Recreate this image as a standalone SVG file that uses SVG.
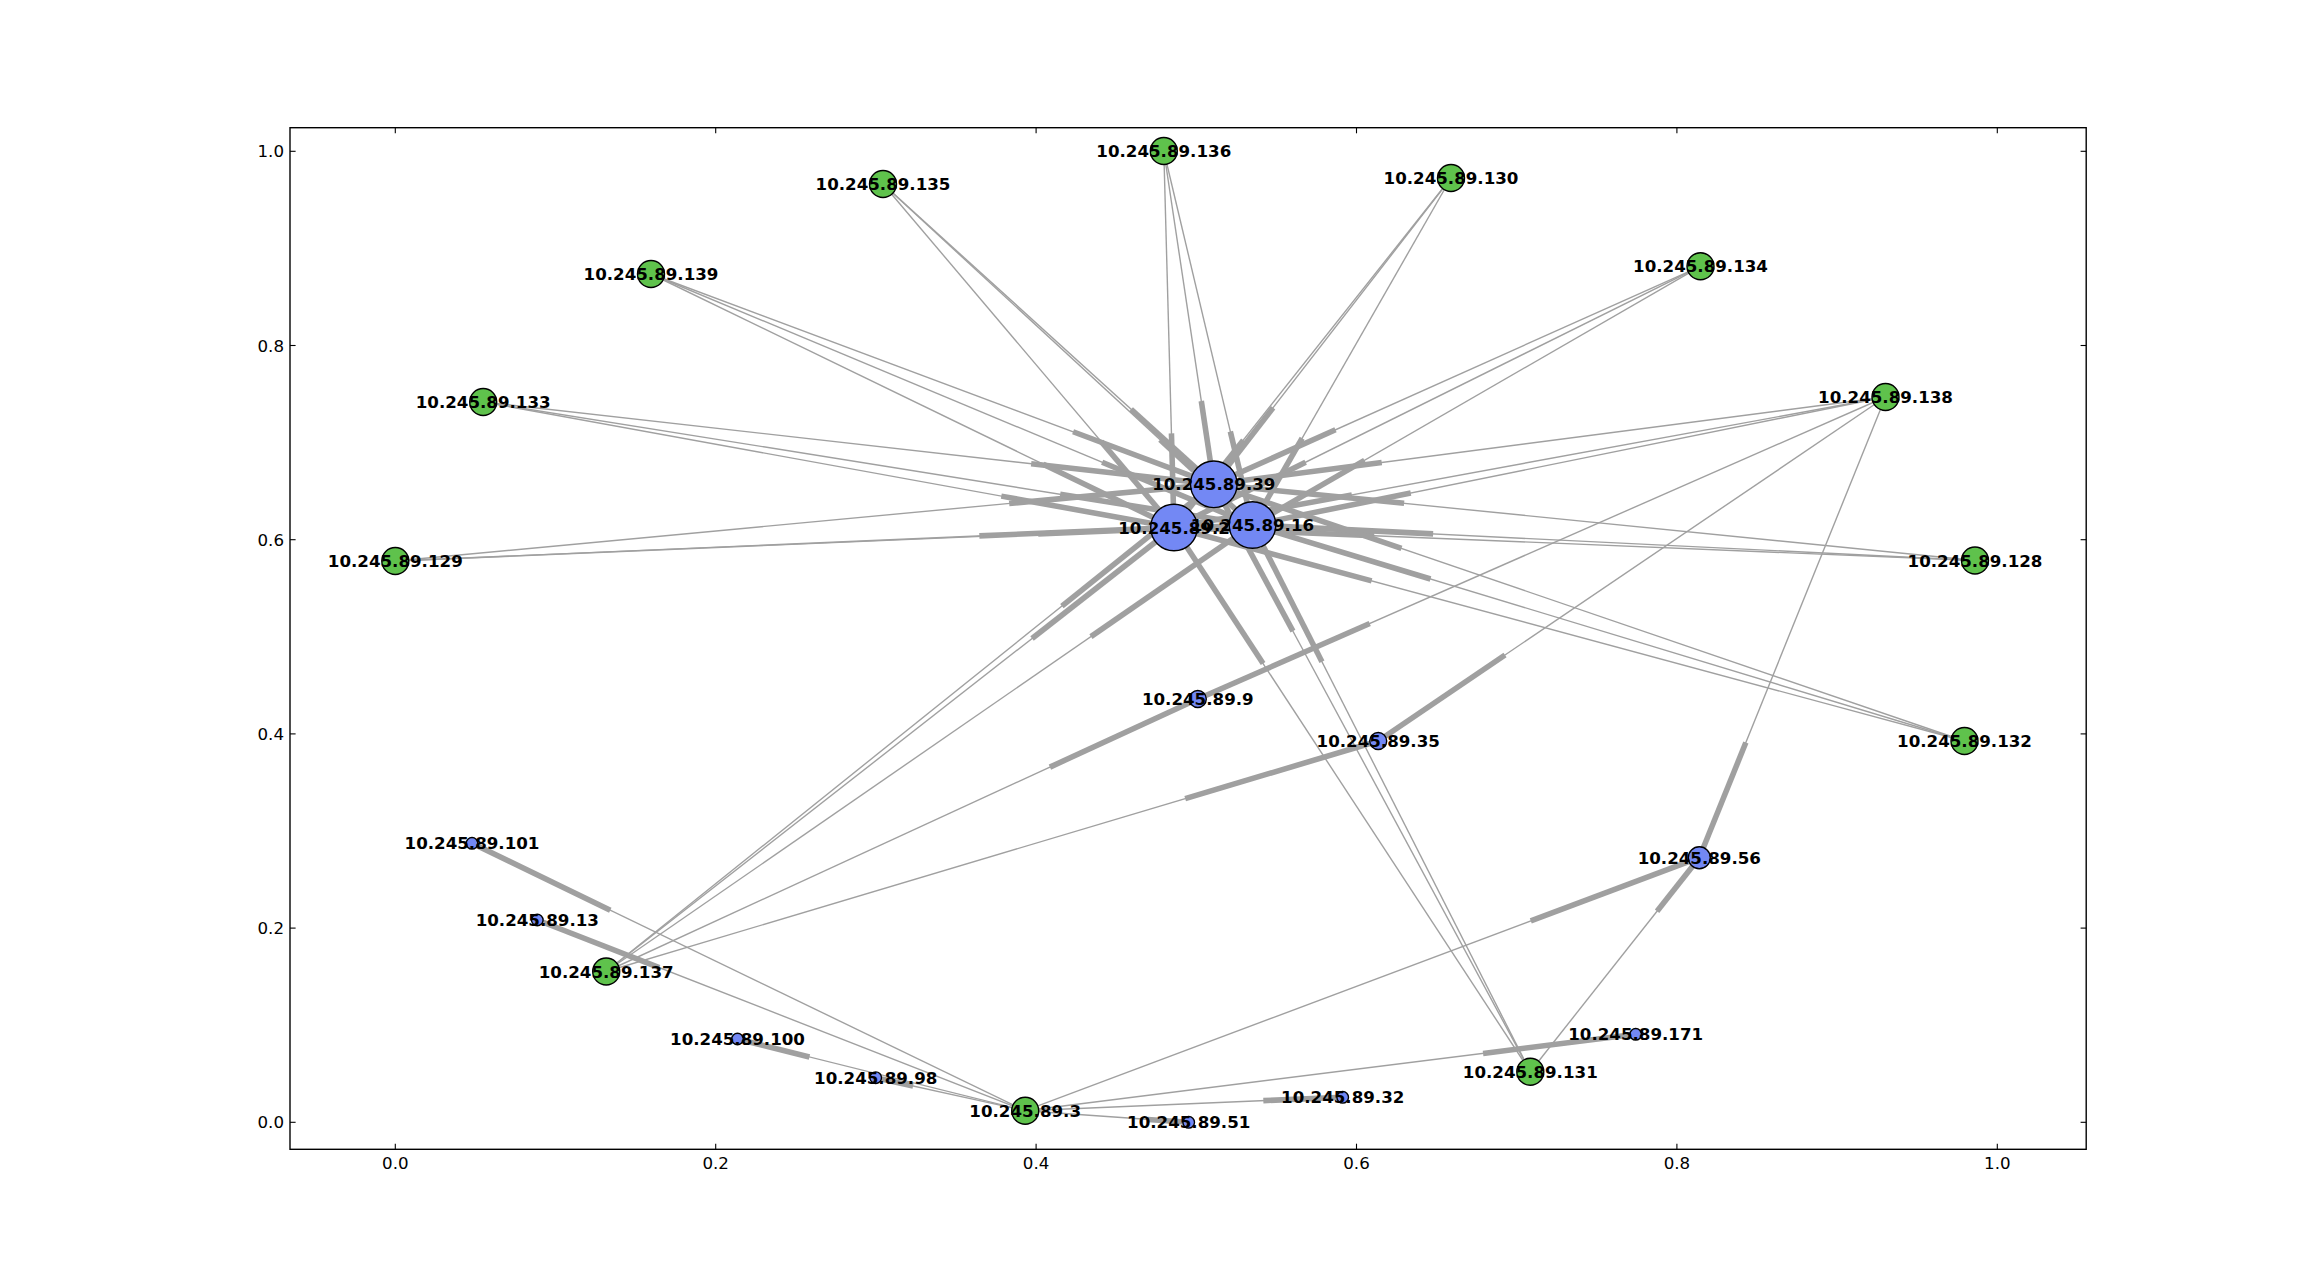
<svg xmlns="http://www.w3.org/2000/svg" width="2318" height="1277" viewBox="0 0 2318 1277">
<style>
.bg{fill:#ffffff}
.frame{fill:none;stroke:#000;stroke-width:1.39}
.tick{stroke:#000;stroke-width:1.1}
.tl{font-family:"DejaVu Sans",sans-serif;font-size:16.67px;fill:#000}
.e line{stroke:#a0a0a0;stroke-linecap:butt}
.e line.t{stroke-width:1.39}
.e line.h{stroke-width:5.56}
.n circle{stroke:#000;stroke-width:1.39}
.g{fill:#5fc24c}
.b{fill:#7388f4}
.n text{font-family:"DejaVu Sans",sans-serif;font-weight:bold;font-size:16.67px;text-anchor:middle;fill:#000}
</style>
<rect class="bg" x="0" y="0" width="2318" height="1277"/>
<g id="axes">
<rect class="frame" x="290" y="127.7" width="1796.2" height="1021.6"/>
<g id="xticks">
<line class="tick" x1="395.3" y1="1149.3" x2="395.3" y2="1143.7"/><line class="tick" x1="395.3" y1="127.7" x2="395.3" y2="133.3"/>
<line class="tick" x1="715.7" y1="1149.3" x2="715.7" y2="1143.7"/><line class="tick" x1="715.7" y1="127.7" x2="715.7" y2="133.3"/>
<line class="tick" x1="1036.1" y1="1149.3" x2="1036.1" y2="1143.7"/><line class="tick" x1="1036.1" y1="127.7" x2="1036.1" y2="133.3"/>
<line class="tick" x1="1356.5" y1="1149.3" x2="1356.5" y2="1143.7"/><line class="tick" x1="1356.5" y1="127.7" x2="1356.5" y2="133.3"/>
<line class="tick" x1="1676.9" y1="1149.3" x2="1676.9" y2="1143.7"/><line class="tick" x1="1676.9" y1="127.7" x2="1676.9" y2="133.3"/>
<line class="tick" x1="1997.3" y1="1149.3" x2="1997.3" y2="1143.7"/><line class="tick" x1="1997.3" y1="127.7" x2="1997.3" y2="133.3"/>
<text class="tl" x="395.3" y="1169.3" text-anchor="middle">0.0</text>
<text class="tl" x="715.7" y="1169.3" text-anchor="middle">0.2</text>
<text class="tl" x="1036.1" y="1169.3" text-anchor="middle">0.4</text>
<text class="tl" x="1356.5" y="1169.3" text-anchor="middle">0.6</text>
<text class="tl" x="1676.9" y="1169.3" text-anchor="middle">0.8</text>
<text class="tl" x="1997.3" y="1169.3" text-anchor="middle">1.0</text>
</g>
<g id="yticks">
<line class="tick" x1="290" y1="1122.3" x2="295.6" y2="1122.3"/><line class="tick" x1="2086.2" y1="1122.3" x2="2080.6" y2="1122.3"/>
<line class="tick" x1="290" y1="928.1" x2="295.6" y2="928.1"/><line class="tick" x1="2086.2" y1="928.1" x2="2080.6" y2="928.1"/>
<line class="tick" x1="290" y1="733.9" x2="295.6" y2="733.9"/><line class="tick" x1="2086.2" y1="733.9" x2="2080.6" y2="733.9"/>
<line class="tick" x1="290" y1="539.7" x2="295.6" y2="539.7"/><line class="tick" x1="2086.2" y1="539.7" x2="2080.6" y2="539.7"/>
<line class="tick" x1="290" y1="345.5" x2="295.6" y2="345.5"/><line class="tick" x1="2086.2" y1="345.5" x2="2080.6" y2="345.5"/>
<line class="tick" x1="290" y1="151.3" x2="295.6" y2="151.3"/><line class="tick" x1="2086.2" y1="151.3" x2="2080.6" y2="151.3"/>
<text class="tl" x="284" y="1128.4" text-anchor="end">0.0</text>
<text class="tl" x="284" y="934.2" text-anchor="end">0.2</text>
<text class="tl" x="284" y="740" text-anchor="end">0.4</text>
<text class="tl" x="284" y="545.8" text-anchor="end">0.6</text>
<text class="tl" x="284" y="351.6" text-anchor="end">0.8</text>
<text class="tl" x="284" y="157.4" text-anchor="end">1.0</text>
</g>
</g>
<g id="connectors" class="e">
<g id="e136-39"><line class="t" x1="1163.8" y1="151" x2="1213.8" y2="484.3"/><line class="h" x1="1201.3" y1="400.98" x2="1213.8" y2="484.3"/></g>
<g id="e136-2"><line class="t" x1="1163.8" y1="151" x2="1174" y2="527.5"/><line class="h" x1="1171.45" y1="433.38" x2="1174" y2="527.5"/></g>
<g id="e136-16"><line class="t" x1="1163.8" y1="151" x2="1252.5" y2="525"/><line class="h" x1="1230.33" y1="431.5" x2="1252.5" y2="525"/></g>
<g id="e135-39"><line class="t" x1="883" y1="184" x2="1213.8" y2="484.3"/><line class="h" x1="1131.1" y1="409.23" x2="1213.8" y2="484.3"/></g>
<g id="e135-2"><line class="t" x1="883" y1="184" x2="1174" y2="527.5"/><line class="h" x1="1101.25" y1="441.63" x2="1174" y2="527.5"/></g>
<g id="e135-16"><line class="t" x1="883" y1="184" x2="1252.5" y2="525"/><line class="h" x1="1160.13" y1="439.75" x2="1252.5" y2="525"/></g>
<g id="e130-39"><line class="t" x1="1451" y1="178" x2="1213.8" y2="484.3"/><line class="h" x1="1273.1" y1="407.73" x2="1213.8" y2="484.3"/></g>
<g id="e130-2"><line class="t" x1="1451" y1="178" x2="1174" y2="527.5"/><line class="h" x1="1243.25" y1="440.13" x2="1174" y2="527.5"/></g>
<g id="e130-16"><line class="t" x1="1451" y1="178" x2="1252.5" y2="525"/><line class="h" x1="1302.13" y1="438.25" x2="1252.5" y2="525"/></g>
<g id="e139-39"><line class="t" x1="651" y1="274" x2="1213.8" y2="484.3"/><line class="h" x1="1073.1" y1="431.73" x2="1213.8" y2="484.3"/></g>
<g id="e139-2"><line class="t" x1="651" y1="274" x2="1174" y2="527.5"/><line class="h" x1="1043.25" y1="464.13" x2="1174" y2="527.5"/></g>
<g id="e139-16"><line class="t" x1="651" y1="274" x2="1252.5" y2="525"/><line class="h" x1="1102.13" y1="462.25" x2="1252.5" y2="525"/></g>
<g id="e134-39"><line class="t" x1="1700.5" y1="266.3" x2="1213.8" y2="484.3"/><line class="h" x1="1335.48" y1="429.8" x2="1213.8" y2="484.3"/></g>
<g id="e134-2"><line class="t" x1="1700.5" y1="266.3" x2="1174" y2="527.5"/><line class="h" x1="1305.63" y1="462.2" x2="1174" y2="527.5"/></g>
<g id="e134-16"><line class="t" x1="1700.5" y1="266.3" x2="1252.5" y2="525"/><line class="h" x1="1364.5" y1="460.33" x2="1252.5" y2="525"/></g>
<g id="e133-39"><line class="t" x1="483.2" y1="402" x2="1213.8" y2="484.3"/><line class="h" x1="1031.15" y1="463.73" x2="1213.8" y2="484.3"/></g>
<g id="e133-2"><line class="t" x1="483.2" y1="402" x2="1174" y2="527.5"/><line class="h" x1="1001.3" y1="496.13" x2="1174" y2="527.5"/></g>
<g id="e133-16"><line class="t" x1="483.2" y1="402" x2="1252.5" y2="525"/><line class="h" x1="1060.18" y1="494.25" x2="1252.5" y2="525"/></g>
<g id="e138-39"><line class="t" x1="1885.5" y1="397" x2="1213.8" y2="484.3"/><line class="h" x1="1381.73" y1="462.48" x2="1213.8" y2="484.3"/></g>
<g id="e138-2"><line class="t" x1="1885.5" y1="397" x2="1174" y2="527.5"/><line class="h" x1="1351.88" y1="494.88" x2="1174" y2="527.5"/></g>
<g id="e138-16"><line class="t" x1="1885.5" y1="397" x2="1252.5" y2="525"/><line class="h" x1="1410.75" y1="493" x2="1252.5" y2="525"/></g>
<g id="e129-39"><line class="t" x1="395.3" y1="561" x2="1213.8" y2="484.3"/><line class="h" x1="1009.18" y1="503.48" x2="1213.8" y2="484.3"/></g>
<g id="e129-2"><line class="t" x1="395.3" y1="561" x2="1174" y2="527.5"/><line class="h" x1="979.33" y1="535.88" x2="1174" y2="527.5"/></g>
<g id="e129-16"><line class="t" x1="395.3" y1="561" x2="1252.5" y2="525"/><line class="h" x1="1038.2" y1="534" x2="1252.5" y2="525"/></g>
<g id="e128-39"><line class="t" x1="1975" y1="560.5" x2="1213.8" y2="484.3"/><line class="h" x1="1404.1" y1="503.35" x2="1213.8" y2="484.3"/></g>
<g id="e128-2"><line class="t" x1="1975" y1="560.5" x2="1174" y2="527.5"/><line class="h" x1="1374.25" y1="535.75" x2="1174" y2="527.5"/></g>
<g id="e128-16"><line class="t" x1="1975" y1="560.5" x2="1252.5" y2="525"/><line class="h" x1="1433.13" y1="533.88" x2="1252.5" y2="525"/></g>
<g id="e132-39"><line class="t" x1="1964.5" y1="741" x2="1213.8" y2="484.3"/><line class="h" x1="1401.48" y1="548.48" x2="1213.8" y2="484.3"/></g>
<g id="e132-2"><line class="t" x1="1964.5" y1="741" x2="1174" y2="527.5"/><line class="h" x1="1371.63" y1="580.88" x2="1174" y2="527.5"/></g>
<g id="e132-16"><line class="t" x1="1964.5" y1="741" x2="1252.5" y2="525"/><line class="h" x1="1430.5" y1="579" x2="1252.5" y2="525"/></g>
<g id="e137-39"><line class="t" x1="606.2" y1="971.5" x2="1213.8" y2="484.3"/><line class="h" x1="1061.9" y1="606.1" x2="1213.8" y2="484.3"/></g>
<g id="e137-2"><line class="t" x1="606.2" y1="971.5" x2="1174" y2="527.5"/><line class="h" x1="1032.05" y1="638.5" x2="1174" y2="527.5"/></g>
<g id="e137-16"><line class="t" x1="606.2" y1="971.5" x2="1252.5" y2="525"/><line class="h" x1="1090.93" y1="636.63" x2="1252.5" y2="525"/></g>
<g id="e137-9"><line class="t" x1="606.2" y1="971.5" x2="1197.8" y2="699"/><line class="h" x1="1049.9" y1="767.1" x2="1197.8" y2="699"/></g>
<g id="e137-35"><line class="t" x1="606.2" y1="971.5" x2="1378.2" y2="741"/><line class="h" x1="1185.2" y1="798.6" x2="1378.2" y2="741"/></g>
<g id="e131-39"><line class="t" x1="1530.3" y1="1071.7" x2="1213.8" y2="484.3"/><line class="h" x1="1292.93" y1="631.15" x2="1213.8" y2="484.3"/></g>
<g id="e131-2"><line class="t" x1="1530.3" y1="1071.7" x2="1174" y2="527.5"/><line class="h" x1="1263.08" y1="663.55" x2="1174" y2="527.5"/></g>
<g id="e131-16"><line class="t" x1="1530.3" y1="1071.7" x2="1252.5" y2="525"/><line class="h" x1="1321.95" y1="661.68" x2="1252.5" y2="525"/></g>
<g id="e131-56"><line class="t" x1="1530.3" y1="1071.7" x2="1699.3" y2="857.7"/><line class="h" x1="1657.05" y1="911.2" x2="1699.3" y2="857.7"/></g>
<g id="e138-9"><line class="t" x1="1885.5" y1="397" x2="1197.8" y2="699"/><line class="h" x1="1369.73" y1="623.5" x2="1197.8" y2="699"/></g>
<g id="e138-35"><line class="t" x1="1885.5" y1="397" x2="1378.2" y2="741"/><line class="h" x1="1505.03" y1="655" x2="1378.2" y2="741"/></g>
<g id="e138-56"><line class="t" x1="1885.5" y1="397" x2="1699.3" y2="857.7"/><line class="h" x1="1745.85" y1="742.53" x2="1699.3" y2="857.7"/></g>
<g id="e3-101"><line class="t" x1="1025.2" y1="1110.7" x2="472" y2="843.3"/><line class="h" x1="610.3" y1="910.15" x2="472" y2="843.3"/></g>
<g id="e3-13"><line class="t" x1="1025.2" y1="1110.7" x2="537.3" y2="920"/><line class="h" x1="659.28" y1="967.68" x2="537.3" y2="920"/></g>
<g id="e3-100"><line class="t" x1="1025.2" y1="1110.7" x2="737.5" y2="1039"/><line class="h" x1="809.43" y1="1056.93" x2="737.5" y2="1039"/></g>
<g id="e3-98"><line class="t" x1="1025.2" y1="1110.7" x2="875.7" y2="1077.7"/><line class="h" x1="913.08" y1="1085.95" x2="875.7" y2="1077.7"/></g>
<g id="e3-51"><line class="t" x1="1025.2" y1="1110.7" x2="1188.7" y2="1122.3"/><line class="h" x1="1147.83" y1="1119.4" x2="1188.7" y2="1122.3"/></g>
<g id="e3-32"><line class="t" x1="1025.2" y1="1110.7" x2="1342.7" y2="1097.3"/><line class="h" x1="1263.33" y1="1100.65" x2="1342.7" y2="1097.3"/></g>
<g id="e3-171"><line class="t" x1="1025.2" y1="1110.7" x2="1635.7" y2="1034.3"/><line class="h" x1="1483.08" y1="1053.4" x2="1635.7" y2="1034.3"/></g>
<g id="e3-56"><line class="t" x1="1025.2" y1="1110.7" x2="1699.3" y2="857.7"/><line class="h" x1="1530.78" y1="920.95" x2="1699.3" y2="857.7"/></g>
</g>
<g id="nodes">
<g id="n136" class="n"><circle class="g" cx="1163.8" cy="151" r="13.5"/><text x="1163.8" y="157.1">10.245.89.136</text></g>
<g id="n135" class="n"><circle class="g" cx="883" cy="184" r="13.5"/><text x="883" y="190.1">10.245.89.135</text></g>
<g id="n130" class="n"><circle class="g" cx="1451" cy="178" r="13.5"/><text x="1451" y="184.1">10.245.89.130</text></g>
<g id="n139" class="n"><circle class="g" cx="651" cy="274" r="13.5"/><text x="651" y="280.1">10.245.89.139</text></g>
<g id="n134" class="n"><circle class="g" cx="1700.5" cy="266.3" r="13.5"/><text x="1700.5" y="272.4">10.245.89.134</text></g>
<g id="n133" class="n"><circle class="g" cx="483.2" cy="402" r="13.5"/><text x="483.2" y="408.1">10.245.89.133</text></g>
<g id="n138" class="n"><circle class="g" cx="1885.5" cy="397" r="13.5"/><text x="1885.5" y="403.1">10.245.89.138</text></g>
<g id="n129" class="n"><circle class="g" cx="395.3" cy="561" r="13.5"/><text x="395.3" y="567.1">10.245.89.129</text></g>
<g id="n128" class="n"><circle class="g" cx="1975" cy="560.5" r="13.5"/><text x="1975" y="566.6">10.245.89.128</text></g>
<g id="n132" class="n"><circle class="g" cx="1964.5" cy="741" r="13.5"/><text x="1964.5" y="747.1">10.245.89.132</text></g>
<g id="n137" class="n"><circle class="g" cx="606.2" cy="971.5" r="13.5"/><text x="606.2" y="977.6">10.245.89.137</text></g>
<g id="n3" class="n"><circle class="g" cx="1025.2" cy="1110.7" r="13.5"/><text x="1025.2" y="1116.8">10.245.89.3</text></g>
<g id="n131" class="n"><circle class="g" cx="1530.3" cy="1071.7" r="13.5"/><text x="1530.3" y="1077.8">10.245.89.131</text></g>
<g id="n39" class="n"><circle class="b" cx="1213.8" cy="484.3" r="23.3"/><text x="1213.8" y="490.4">10.245.89.39</text></g>
<g id="n2" class="n"><circle class="b" cx="1174" cy="527.5" r="23.3"/><text x="1174" y="533.6">10.245.89.2</text></g>
<g id="n16" class="n"><circle class="b" cx="1252.5" cy="525" r="23.3"/><text x="1252.5" y="531.1">10.245.89.16</text></g>
<g id="n9" class="n"><circle class="b" cx="1197.8" cy="699" r="8.5"/><text x="1197.8" y="705.1">10.245.89.9</text></g>
<g id="n35" class="n"><circle class="b" cx="1378.2" cy="741" r="8.5"/><text x="1378.2" y="747.1">10.245.89.35</text></g>
<g id="n56" class="n"><circle class="b" cx="1699.3" cy="857.7" r="11"/><text x="1699.3" y="863.8">10.245.89.56</text></g>
<g id="n101" class="n"><circle class="b" cx="472" cy="843.3" r="5.8"/><text x="472" y="849.4">10.245.89.101</text></g>
<g id="n13" class="n"><circle class="b" cx="537.3" cy="920" r="5.8"/><text x="537.3" y="926.1">10.245.89.13</text></g>
<g id="n100" class="n"><circle class="b" cx="737.5" cy="1039" r="5.8"/><text x="737.5" y="1045.1">10.245.89.100</text></g>
<g id="n98" class="n"><circle class="b" cx="875.7" cy="1077.7" r="5.8"/><text x="875.7" y="1083.8">10.245.89.98</text></g>
<g id="n51" class="n"><circle class="b" cx="1188.7" cy="1122.3" r="5.8"/><text x="1188.7" y="1128.4">10.245.89.51</text></g>
<g id="n32" class="n"><circle class="b" cx="1342.7" cy="1097.3" r="5.8"/><text x="1342.7" y="1103.4">10.245.89.32</text></g>
<g id="n171" class="n"><circle class="b" cx="1635.7" cy="1034.3" r="5.8"/><text x="1635.7" y="1040.4">10.245.89.171</text></g>
</g>
</svg>
